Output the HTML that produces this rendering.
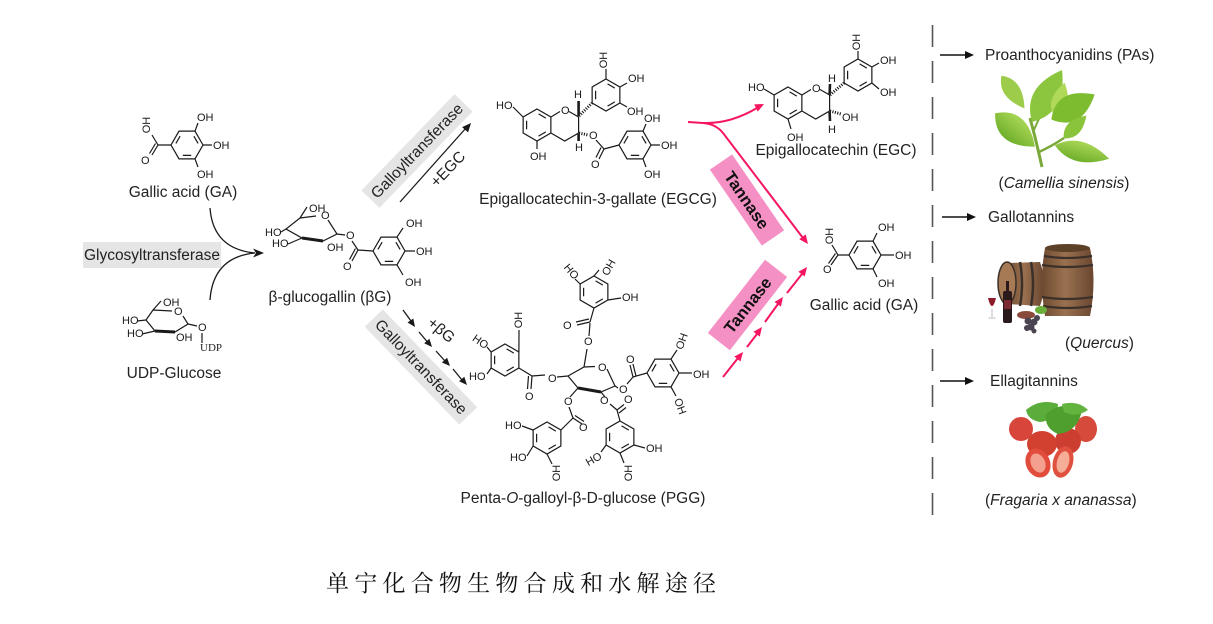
<!DOCTYPE html>
<html><head><meta charset="utf-8">
<style>
html,body{margin:0;padding:0;background:#fff;}
svg{display:block;}
.a{font-family:"Liberation Sans",Arial,sans-serif;font-size:11px;fill:#1a1a1a}
.t{font-family:"Liberation Sans",Arial,sans-serif;font-size:15.5px;fill:#222}
</style></head><body>
<svg width="1213" height="624" viewBox="0 0 1213 624" xmlns="http://www.w3.org/2000/svg">
<defs>
<g id="hf" stroke="#1a1a1a" stroke-width="1.2" fill="none"><polygon points="16,0 8,-13.86 -8,-13.86 -16,0 -8,13.86 8,13.86"/><path d="M11.1,-1.56L6.9,-8.83M-6.9,-8.83L-11.1,-1.56M-4.2,10.39L4.2,10.39"/></g>
<g id="hp" stroke="#1a1a1a" stroke-width="1.2" fill="none"><polygon points="0,-16 13.86,-8 13.86,8 0,16 -13.86,8 -13.86,-8"/><path d="M1.56,-11.1L8.83,-6.9M8.83,6.9L1.56,11.1M-10.39,4.2L-10.39,-4.2"/></g>
<linearGradient id="wood" x1="0" x2="1" y1="0" y2="0"><stop offset="0" stop-color="#6e4a30"/><stop offset="0.45" stop-color="#9a7150"/><stop offset="1" stop-color="#6a4630"/></linearGradient>
<linearGradient id="leaf" x1="0" x2="0" y1="0" y2="1"><stop offset="0" stop-color="#a8d656"/><stop offset="1" stop-color="#6faf2a"/></linearGradient>
</defs>

<!-- ===== Gallic acid top-left ===== -->
<use href="#hf" x="187" y="145"/>
<g stroke="#1a1a1a" stroke-width="1.2" fill="none">
<path d="M195,131.1L198,123M203,145L212,145M195,158.9L198,167M171,145L158,145M158,145L152,135M158,145L152,155M155.5,143.5L149.5,153.5"/>
</g>
<text class="a" x="197" y="121">OH</text>
<text class="a" x="213" y="149">OH</text>
<text class="a" x="197" y="178">OH</text>
<text class="a" transform="translate(150,125) rotate(-90)" text-anchor="middle">OH</text>
<text class="a" x="141" y="164">O</text>
<text class="t" x="183" y="197" text-anchor="middle">Gallic acid (GA)</text>

<!-- curved arrows -->
<g stroke="#1a1a1a" stroke-width="1.3" fill="none">
<path d="M210,208 Q213,249 255,253"/><path d="M210,300 Q213,257 255,253"/>
</g>
<polygon points="264,253 253,248.5 256,253 253,257.5" fill="#1a1a1a"/>

<rect x="83" y="242" width="138" height="26" fill="#e5e5e5"/>
<text class="t" x="152" y="260" text-anchor="middle" font-size="15">Glycosyltransferase</text>

<!-- ===== UDP-Glucose ===== -->
<g stroke="#1a1a1a" stroke-width="1.2" fill="none">
<path d="M146,320L153,310L172,311M183,316L188,324L175,332L155,331L146,320"/>
<path d="M155,331L175,332" stroke-width="3"/>
<path d="M153,310L161,301M137,321L146,320M142,334L155,331M188,324L197,326M202,333L202,343"/>
</g>
<text class="a" x="174" y="315">O</text>
<text class="a" x="163" y="306">OH</text>
<text class="a" x="122" y="324">HO</text>
<text class="a" x="127" y="337">HO</text>
<text class="a" x="176" y="341">OH</text>
<text class="a" x="198" y="331">O</text>
<text x="200" y="351" font-family="'Liberation Serif',serif" font-size="11" fill="#222">UDP</text>
<text class="t" x="174" y="378" text-anchor="middle">UDP-Glucose</text>

<!-- ===== beta-glucogallin ===== -->
<g stroke="#1a1a1a" stroke-width="1.2" fill="none">
<path d="M300,218L316,216M328,220L337,234L323,241L302,238L286,229L300,218"/>
<path d="M302,238L323,241" stroke-width="3"/>
<path d="M300,218L307,207M281,232L286,229M288,244L302,238M337,234L345,235M352,241L358,250M358,250L352,261M355.5,248.5L349.5,259.5M358,250L373,251"/>
<path d="M397,237.1L403,228M405,251L415,251M397,264.9L403,275"/>
</g>
<use href="#hf" x="389" y="251"/>
<text class="a" x="321" y="219">O</text>
<text class="a" x="309" y="212">OH</text>
<text class="a" x="265" y="236">HO</text>
<text class="a" x="272" y="247">HO</text>
<text class="a" x="327" y="251">OH</text>
<text class="a" x="346" y="239">O</text>
<text class="a" x="343" y="270">O</text>
<text class="a" x="406" y="227">OH</text>
<text class="a" x="416" y="255">OH</text>
<text class="a" x="405" y="286">OH</text>
<text class="t" x="330" y="302" text-anchor="middle">β-glucogallin (βG)</text>

<!-- ===== upper galloyltransferase ===== -->
<g transform="translate(417,151) rotate(-46)"><rect x="-67" y="-12.5" width="134" height="25" fill="#e5e5e5"/><text class="t" text-anchor="middle" y="5" font-size="15">Galloyltransferase</text></g>
<path d="M400,202L466,128" stroke="#1a1a1a" stroke-width="1.3"/>
<polygon points="471,123 468.1,132.4 465.1,129.7 462.1,127.1" fill="#1a1a1a"/>
<text class="t" transform="translate(451.5,172.5) rotate(-46)" text-anchor="middle">+EGC</text>

<!-- ===== EGCG ===== -->
<use href="#hp" x="537" y="125"/>
<use href="#hp" x="606" y="95"/>
<use href="#hf" x="635" y="145"/>
<g stroke="#1a1a1a" stroke-width="1.2" fill="none">
<path d="M513,107L523.1,117M537,141L537,149"/>
<path d="M550.9,117L560,111.5M569,111.5L578.6,117L578.6,133L564.7,141L550.9,133"/>
<path d="M578.6,116L578.6,101M578.6,134L578.6,141" stroke-width="2.6"/>
<path d="M579,116L592,103M579,133L588,135" stroke-width="3" stroke-dasharray="1.1 1.4"/>
<path d="M606,79L606,69M619.9,87L627,83M619.9,103L627,107"/>
<path d="M596,140L604,149M604,149L599,159M601,147.5L596,157.5M604,149L619,145"/>
<path d="M643,131.1L646,124M651,145L660,145M643,158.9L646,167"/>
</g>
<text class="a" x="496" y="109">HO</text>
<text class="a" x="530" y="160">OH</text>
<text class="a" x="561" y="114">O</text>
<text class="a" x="574" y="98">H</text>
<text class="a" x="575" y="151">H</text>
<text class="a" transform="translate(607,60) rotate(-90)" text-anchor="middle">OH</text>
<text class="a" x="628" y="82">OH</text>
<text class="a" x="627" y="115">OH</text>
<text class="a" x="589" y="139">O</text>
<text class="a" x="591" y="168">O</text>
<text class="a" x="644" y="122">OH</text>
<text class="a" x="661" y="149">OH</text>
<text class="a" x="644" y="178">OH</text>
<text class="t" x="598" y="204" text-anchor="middle">Epigallocatechin-3-gallate (EGCG)</text>

<!-- ===== lower galloyltransferase ===== -->
<g transform="translate(421,367) rotate(46)"><rect x="-68" y="-12.5" width="136" height="25" fill="#e5e5e5"/><text class="t" text-anchor="middle" y="5" font-size="15">Galloyltransferase</text></g>
<g stroke="#1a1a1a" stroke-width="1.3" fill="none">
<path d="M403,310L411,321M419,332L427,341.5M436,351L445,361M453,369L462,380"/>
</g>
<g fill="#1a1a1a">
<polygon points="415,327 413.3,318.5 407.5,322.5"/>
<polygon points="432,347 429.4,338.7 424.2,343.3"/>
<polygon points="450,366 447.1,357.7 441.9,362.5"/>
<polygon points="467,385 464.3,376.7 459.1,381.3"/>
</g>
<text class="t" transform="translate(438,334) rotate(40)" text-anchor="middle">+βG</text>

<!-- ===== PGG ===== -->
<use href="#hp" x="594" y="292"/>
<use href="#hp" x="505" y="360"/>
<use href="#hf" x="663" y="373"/>
<use href="#hp" x="547" y="438"/>
<use href="#hp" x="620" y="437"/>
<g stroke="#1a1a1a" stroke-width="1.2" fill="none">
<path d="M568,376L584,367L595,366.5M607,369L615,386L601,392L578,388L568,376"/>
<path d="M578,388L601,392" stroke-width="3"/>
<path d="M584,367L587,349M589,336L590,323M590,322L577,325M589,319L576,322M590,322L594,308"/>
<path d="M580.1,284L575,279M594,276L599,270M607.9,300L621,298"/>
<path d="M518.9,368L532,376M532,376L531,389M528.5,376L527.5,389M532,376L545,375M557,377L568,376"/>
<path d="M518.9,352L519,330M491.1,352L487,347M487,374L491.1,368"/>
<path d="M647,373L633,377M633,377L630,365M636,376L633,364M633,377L627,384M618,388L615,386"/>
<path d="M671,359.1L677,350M679,373L692,373M671,386.9L676,396"/>
<path d="M560.9,430L573,418M573,418L582,424M575,415.5L584,421.5M573,418L569,407M570,397L578,388"/>
<path d="M522,426L533.1,430M527,456L533.1,446M547,454L552,464"/>
<path d="M620,421L617,410M617,410L624,404.5M619,413L626,407.5M617,410L610,404M605,397L601,392"/>
<path d="M633.9,445L645,448M606.1,445L601,452M620,453L624,463"/>
</g>
<text class="a" x="598" y="371">O</text>
<text class="a" x="584" y="345">O</text>
<text class="a" x="563" y="329">O</text>
<text class="a" transform="translate(568.6,273.9) rotate(50)" text-anchor="middle">HO</text>
<text class="a" transform="translate(611.9,269.3) rotate(-60)" text-anchor="middle">OH</text>
<text class="a" x="622" y="301">OH</text>
<text class="a" x="525" y="400">O</text>
<text class="a" x="548" y="382">O</text>
<text class="a" transform="translate(522,320) rotate(-90)" text-anchor="middle">OH</text>
<text class="a" transform="translate(478.4,344.7) rotate(35)" text-anchor="middle">HO</text>
<text class="a" x="469" y="380">HO</text>
<text class="a" x="626" y="363">O</text>
<text class="a" x="619" y="393">O</text>
<text class="a" transform="translate(685.2,342.5) rotate(-70)" text-anchor="middle">OH</text>
<text class="a" x="693" y="378">OH</text>
<text class="a" transform="translate(676.8,407.5) rotate(70)" text-anchor="middle">OH</text>
<text class="a" x="579" y="431">O</text>
<text class="a" x="564" y="405">O</text>
<text class="a" x="505" y="429">HO</text>
<text class="a" x="510" y="461">HO</text>
<text class="a" transform="translate(560,473) rotate(-90)" text-anchor="middle">OH</text>
<text class="a" x="624" y="403">O</text>
<text class="a" x="600" y="404">O</text>
<text class="a" x="646" y="452">OH</text>
<text class="a" transform="translate(595.5,462.3) rotate(-30)" text-anchor="middle">HO</text>
<text class="a" transform="translate(632,473) rotate(-90)" text-anchor="middle">OH</text>
<text class="t" x="583" y="503" text-anchor="middle">Penta-<tspan font-style="italic">O</tspan>-galloyl-β-D-glucose (PGG)</text>

<!-- ===== pink arrows ===== -->
<g stroke="#f5165f" stroke-width="2" fill="none">
<path d="M688,122 L703,123 Q730,124 757,108"/>
<path d="M703,123 Q716,124 723,133 L803,238"/>
<path d="M723,377L738,358M747,347L757,334M765,322L778,304M787,293L802,274"/>
</g>
<g fill="#f5165f">
<polygon points="764,104 757.8,111.6 754.2,104.4"/>
<polygon points="808,244 805.7,234.4 799.3,239.2"/>
<polygon points="743,352 740.5,361.5 734.3,356.5"/>
<polygon points="762,327 759.8,336.6 753.4,331.8"/>
<polygon points="783,297 780.9,306.6 774.5,302"/>
<polygon points="807,267 804.7,276.5 798.3,271.7"/>
</g>
<g transform="translate(747,200) rotate(55.6)"><rect x="-46" y="-13.5" width="92" height="27" fill="#f590c5"/><text x="0" y="6" text-anchor="middle" font-family="'Liberation Sans',Arial,sans-serif" font-weight="bold" font-size="16.5" fill="#111">Tannase</text></g>
<g transform="translate(747.5,305) rotate(-52)"><rect x="-46.5" y="-14" width="93" height="28" fill="#f590c5"/><text x="0" y="6" text-anchor="middle" font-family="'Liberation Sans',Arial,sans-serif" font-weight="bold" font-size="16.5" fill="#111">Tannase</text></g>

<!-- ===== EGC ===== -->
<use href="#hp" x="788" y="103"/>
<use href="#hp" x="858" y="75"/>
<g stroke="#1a1a1a" stroke-width="1.2" fill="none">
<path d="M764,89L774.1,95M788,119L791,129"/>
<path d="M801.9,95L811,89.5M820,89.5L829.6,95L829.6,111L815.7,119L801.9,111"/>
<path d="M829.6,94L830,84M829.6,112L830,121" stroke-width="2.6"/>
<path d="M830,95L844,83M830,111L841,114" stroke-width="3" stroke-dasharray="1.1 1.4"/>
<path d="M858,59L858,51M871.9,67L879,63M871.9,83L879,89"/>
</g>
<text class="a" x="748" y="91">HO</text>
<text class="a" x="787" y="141">OH</text>
<text class="a" x="812" y="92">O</text>
<text class="a" x="828" y="82">H</text>
<text class="a" x="828" y="133">H</text>
<text class="a" x="842" y="121">OH</text>
<text class="a" transform="translate(860,42) rotate(-90)" text-anchor="middle">OH</text>
<text class="a" x="880" y="64">OH</text>
<text class="a" x="880" y="96">OH</text>
<text class="t" x="836" y="155" text-anchor="middle">Epigallocatechin (EGC)</text>

<!-- ===== Gallic acid right ===== -->
<use href="#hf" x="865" y="255"/>
<g stroke="#1a1a1a" stroke-width="1.2" fill="none">
<path d="M849,255L838,255M838,255L832,245M838,255L831,265M835.5,253.5L828.5,263.5M873,241.1L877,233M881,255L894,255M873,268.9L877,277"/>
</g>
<text class="a" transform="translate(833,236) rotate(-90)" text-anchor="middle">OH</text>
<text class="a" x="823" y="273">O</text>
<text class="a" x="878" y="231">OH</text>
<text class="a" x="895" y="259">OH</text>
<text class="a" x="878" y="287">OH</text>
<text class="t" x="864" y="310" text-anchor="middle">Gallic acid (GA)</text>

<!-- dashed divider -->
<path d="M932.5,25L932.5,516" stroke="#555" stroke-width="1.6" stroke-dasharray="22 14"/>

<!-- right column -->
<g stroke="#111" stroke-width="1.4"><path d="M940,55L966,55M942,217L968,217M940,381L966,381"/></g>
<g fill="#111">
<polygon points="974,55 965,51 965,59"/>
<polygon points="976,217 967,213 967,221"/>
<polygon points="974,381 965,377 965,385"/>
</g>
<text class="t" x="985" y="60">Proanthocyanidins (PAs)</text>
<text class="t" x="1064" y="188" text-anchor="middle">(<tspan font-style="italic">Camellia sinensis</tspan>)</text>
<text class="t" x="988" y="222">Gallotannins</text>
<text class="t" x="1065" y="348">(<tspan font-style="italic">Quercus</tspan>)</text>
<text class="t" x="990" y="386">Ellagitannins</text>
<text class="t" x="985" y="505">(<tspan font-style="italic">Fragaria x ananassa</tspan>)</text>

<!-- tea leaves -->
<g>
<path d="M1042,167 Q1036,140 1030,118" stroke="#7aa83a" stroke-width="3" fill="none"/>
<path d="M1039,152 Q1052,146 1064,138" stroke="#7aa83a" stroke-width="2.5" fill="none"/>
<path d="M1034,130 Q1040,115 1046,108" stroke="#7aa83a" stroke-width="2" fill="none"/>
<path d="M-26,0 Q-5,-26 26,0 Q-5,26 -26,0Z" transform="translate(1015,130) rotate(40)" fill="url(#leaf)"/>
<path d="M-20,0 Q-5,-16 20,0 Q-5,16 -20,0Z" transform="translate(1013,92) rotate(55)" fill="#9ccc4a"/>
<path d="M-30,0 Q-5,-26 30,0 Q-5,26 -30,0Z" transform="translate(1047,96) rotate(-60)" fill="#8cc63f"/>
<path d="M-18,0 Q-5,-16 18,0 Q-5,16 -18,0Z" transform="translate(1060,100) rotate(-75)" fill="#b0d95a"/>
<path d="M-25,0 Q-5,-26 25,0 Q-5,26 -25,0Z" transform="translate(1073,107) rotate(-30)" fill="#7dbb2f"/>
<path d="M-16,0 Q-4,-14 16,0 Q-4,14 -16,0Z" transform="translate(1075,127) rotate(-45)" fill="#8ac43b"/>
<path d="M-28,0 Q-5,-20 28,0 Q-5,20 -28,0Z" transform="translate(1082,152) rotate(14)" fill="url(#leaf)"/>
</g>

<!-- barrels -->
<g>
<path d="M1007,263 L1040,262 Q1048,284 1040,306 L1007,304 Z" fill="url(#wood)"/>
<ellipse cx="1007" cy="283" rx="9" ry="21" fill="#a57a55" stroke="#3b302a" stroke-width="1.5"/>
<path d="M1020,262 Q1024,284 1020,306M1031,262 Q1035,284 1031,306" stroke="#3b302a" stroke-width="2.5" fill="none"/>
<path d="M1045,248 Q1039,281 1045,316 L1090,316 Q1097,281 1090,248 Z" fill="url(#wood)"/>
<ellipse cx="1067.5" cy="248" rx="22.5" ry="4" fill="#5d4028"/>
<path d="M1044,256 Q1067,260 1092,256M1042,265 Q1067,269 1093,265M1042,297 Q1067,301 1093,297M1043,306 Q1067,310 1092,306" stroke="#3b302a" stroke-width="2.2" fill="none"/>
<rect x="1003" y="291" width="9" height="32" rx="2" fill="#2a1a1c"/>
<rect x="1006" y="281" width="3" height="11" fill="#2a1a1c"/>
<rect x="1004" y="300" width="7" height="9" fill="#7a2a30"/>
<path d="M988,298 Q992,314 996,298 Z" fill="#8b1a2a"/>
<path d="M992,309L992,317M988.5,318L995.5,318" stroke="#bbb" stroke-width="1"/>
<ellipse cx="1026" cy="315" rx="9" ry="4" fill="#8a4a3a"/>
<ellipse cx="1041" cy="310" rx="6" ry="4" fill="#6aae3a"/>
<g fill="#4a4450"><circle cx="1028" cy="321" r="3.5"/><circle cx="1034" cy="322" r="3.5"/><circle cx="1031" cy="327" r="3.5"/><circle cx="1037" cy="318" r="3"/><circle cx="1027" cy="328" r="3"/><circle cx="1034" cy="331" r="2.5"/></g>
</g>

<!-- strawberries -->
<g>
<ellipse cx="1021" cy="429" rx="12" ry="12" fill="#d8453a"/>
<ellipse cx="1086" cy="429" rx="11" ry="13" fill="#d64a3c"/>
<ellipse cx="1042" cy="444" rx="15" ry="13" fill="#d2402f"/>
<ellipse cx="1068" cy="441" rx="13" ry="13" fill="#cc3f30"/>
<path d="M1026,410 Q1040,398 1058,404 Q1058,420 1040,422 Q1028,420 1026,410 Z" fill="#5aad3a"/>
<path d="M1046,414 Q1062,400 1082,410 Q1078,432 1058,434 Q1044,428 1046,414 Z" fill="#4e9f2e"/>
<path d="M1062,404 Q1078,400 1088,410 Q1076,418 1064,412 Z" fill="#63b43e"/>
<ellipse cx="1038" cy="463" rx="12" ry="15" transform="rotate(-25 1038 463)" fill="#e24c3c"/>
<ellipse cx="1038" cy="463" rx="7" ry="10" transform="rotate(-25 1038 463)" fill="#f4a08e"/>
<ellipse cx="1063" cy="462" rx="10" ry="16" transform="rotate(15 1063 462)" fill="#e0503f"/>
<ellipse cx="1063" cy="462" rx="6" ry="11" transform="rotate(15 1063 462)" fill="#f6ad98"/>
</g>

<!-- caption -->
<text x="326" y="591" font-family="'Noto Serif CJK SC','Noto Sans CJK SC',serif" font-size="23" textLength="390" lengthAdjust="spacing" fill="#111">单宁化合物生物合成和水解途径</text>
</svg>
</body></html>
